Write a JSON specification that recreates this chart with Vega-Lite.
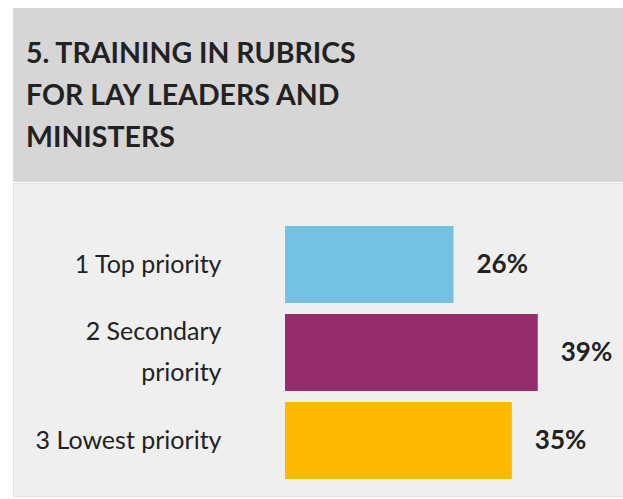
{
  "$schema": "https://vega.github.io/schema/vega-lite/v6.json",
  "background": "white",
  "padding": {"left": 12, "top": 8, "right": 0, "bottom": 4},
  "spacing": 0,
  "config": {"view": {"stroke": null}, "concat": {"spacing": 0}},
  "vconcat": [
    {
      "width": 611,
      "height": 174,
      "view": {"fill": "#d6d6d6", "stroke": null},
      "data": {"values": [{"section": "header"}]},
      "mark": {"type": "rect", "color": "#d6d6d6"},
      "encoding": {},
      "title": {
        "text": ["5. TRAINING IN RUBRICS", "FOR LAY LEADERS AND", "MINISTERS"],
        "anchor": "start",
        "orient": "top",
        "frame": "group",
        "offset": -145,
        "dx": 13,
        "font": "Lato",
        "fontSize": 28.5,
        "fontWeight": "bold",
        "lineHeight": 42.3,
        "color": "#222222"
      }
    },
    {
      "width": 611,
      "height": 313,
      "view": {"fill": "#efefef", "stroke": "#e2e2e2"},
      "data": {
        "values": [
          {"priority": "1 Top priority", "share": 0.26},
          {"priority": "2 Secondary priority", "share": 0.39},
          {"priority": "3 Lowest priority", "share": 0.35}
        ]
      },
      "encoding": {
        "y": {
          "field": "priority",
          "type": "nominal",
          "sort": null,
          "scale": {"paddingInner": 0.125, "paddingOuter": 0.341, "align": 0.717},
          "axis": {
            "title": null,
            "domain": false,
            "ticks": false,
            "grid": false,
            "offset": -272,
            "labelPadding": 64,
            "labelFont": "Lato",
            "labelFontSize": 25,
            "labelColor": "#222222",
            "labelLimit": 0,
            "labelLineHeight": 41,
            "labelOffset": {"condition": {"test": "datum.value == '2 Secondary priority'", "value": -20.5}, "value": 0},
            "labelExpr": "datum.value == '2 Secondary priority' ? ['2 Secondary', 'priority'] : datum.value"
          }
        },
        "x": {
          "field": "share",
          "type": "quantitative",
          "scale": {"domain": [-0.4198, 0.5231], "nice": false, "zero": false},
          "axis": null
        }
      },
      "layer": [
        {
          "mark": {"type": "bar"},
          "encoding": {
            "x2": {"datum": 0},
            "color": {
              "field": "priority",
              "type": "nominal",
              "scale": {
                "domain": ["1 Top priority", "2 Secondary priority", "3 Lowest priority"],
                "range": ["#74c2e1", "#962c6c", "#fdb900"]
              },
              "legend": null
            }
          }
        },
        {
          "mark": {
            "type": "text",
            "align": "left",
            "baseline": "middle",
            "dx": 23,
            "font": "Lato",
            "fontSize": 26,
            "fontWeight": "bold",
            "color": "#222222"
          },
          "encoding": {
            "text": {"field": "share", "type": "quantitative", "format": ".0%"}
          }
        }
      ]
    }
  ]
}
